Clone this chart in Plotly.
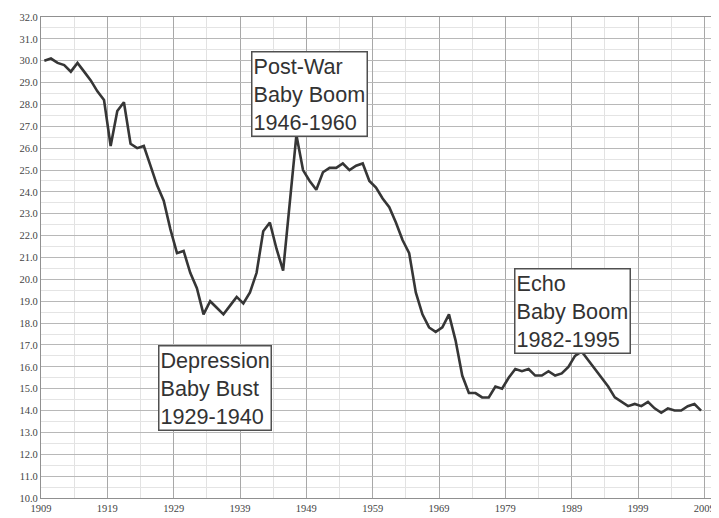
import plotly.graph_objects as go

# tasa de natalidad por año (lectura del gráfico)
years = list(range(1909, 2009))
birth_rate = [
    30.0, 30.1, 29.9, 29.8, 29.5, 29.9, 29.5, 29.1, 28.6, 28.2,
    26.1, 27.7, 28.1, 26.2, 26.0, 26.1, 25.2, 24.3, 23.6, 22.3,
    21.2, 21.3, 20.3, 19.6, 18.4, 19.0, 18.7, 18.4, 18.8, 19.2,
    18.9, 19.4, 20.3, 22.2, 22.6, 21.4, 20.4, 23.5, 26.6, 25.0,
    24.5, 24.1, 24.9, 25.1, 25.1, 25.3, 25.0, 25.2, 25.3, 24.5,
    24.2, 23.7, 23.3, 22.6, 21.8, 21.2, 19.4, 18.4, 17.8, 17.6,
    17.8, 18.4, 17.2, 15.6, 14.8, 14.8, 14.6, 14.6, 15.1, 15.0,
    15.5, 15.9, 15.8, 15.9, 15.6, 15.6, 15.8, 15.6, 15.7, 16.0,
    16.5, 16.7, 16.3, 15.9, 15.5, 15.1, 14.6, 14.4, 14.2, 14.3,
    14.2, 14.4, 14.1, 13.9, 14.1, 14.0, 14.0, 14.2, 14.3, 14.0,
]

label_years = list(range(1909, 2010, 10))
y_ticks = [v / 1.0 for v in range(10, 33)]

# textos de los recuadros: (texto, año izquierdo, valor superior)
notas = [
    ("Post-War<br>Baby Boom<br>1946-1960", 1940.2, 30.45),
    ("Depression<br>Baby Bust<br>1929-1940", 1926.2, 17.0),
    ("Echo<br>Baby Boom<br>1982-1995", 1979.8, 20.5),
]

fig = go.Figure()
fig.add_trace(go.Scatter(
    x=years, y=birth_rate, mode="lines",
    line=dict(color="#363636", width=2.6),
    showlegend=False, hoverinfo="skip",
))

for texto, xx, yy in notas:
    fig.add_annotation(
        x=xx, y=yy, xref="x", yref="y", xanchor="left", yanchor="top",
        text=texto, showarrow=False, align="left",
        font=dict(family="Liberation Sans, Arial", size=21.6, color="#333333"),
        bgcolor="white", bordercolor="#505050", borderwidth=1.5, borderpad=1,
    )

# la página tiene un margen de 8px, se descuenta del tamaño
fig.update_layout(
    width=711, height=510,
    margin=dict(l=33, r=4, t=7, b=18),
    plot_bgcolor="white", paper_bgcolor="white",
    font=dict(family="Liberation Serif, Times New Roman, serif", size=10.5, color="#444444"),
)

fig.update_xaxes(
    range=[1908.5, 2009.5],
    tickmode="array",
    tickvals=[a - 0.5 for a in label_years],
    ticktext=[str(a) for a in label_years],
    showgrid=True, gridcolor="#a8a8a8", gridwidth=1.2,
    minor=dict(tickmode="array", tickvals=[a + 4.5 for a in label_years],
               showgrid=True, gridcolor="#e2e2e2", gridwidth=1),
    showline=True, linecolor="#909090", linewidth=1.2,
    mirror=True, ticks="", ticklen=0, zeroline=False,
)
fig.update_yaxes(
    range=[10, 32],
    tickmode="array", tickvals=y_ticks,
    ticktext=["%.1f" % v for v in y_ticks],
    showgrid=True, gridcolor="#b8b8b8", gridwidth=1.2,
    minor=dict(dtick=0.5, tick0=10, showgrid=True, gridcolor="#e4e4e4", gridwidth=1),
    showline=True, linecolor="#909090", linewidth=1.2,
    mirror=True, ticks="", zeroline=False,
)

fig.write_html("out.html")
